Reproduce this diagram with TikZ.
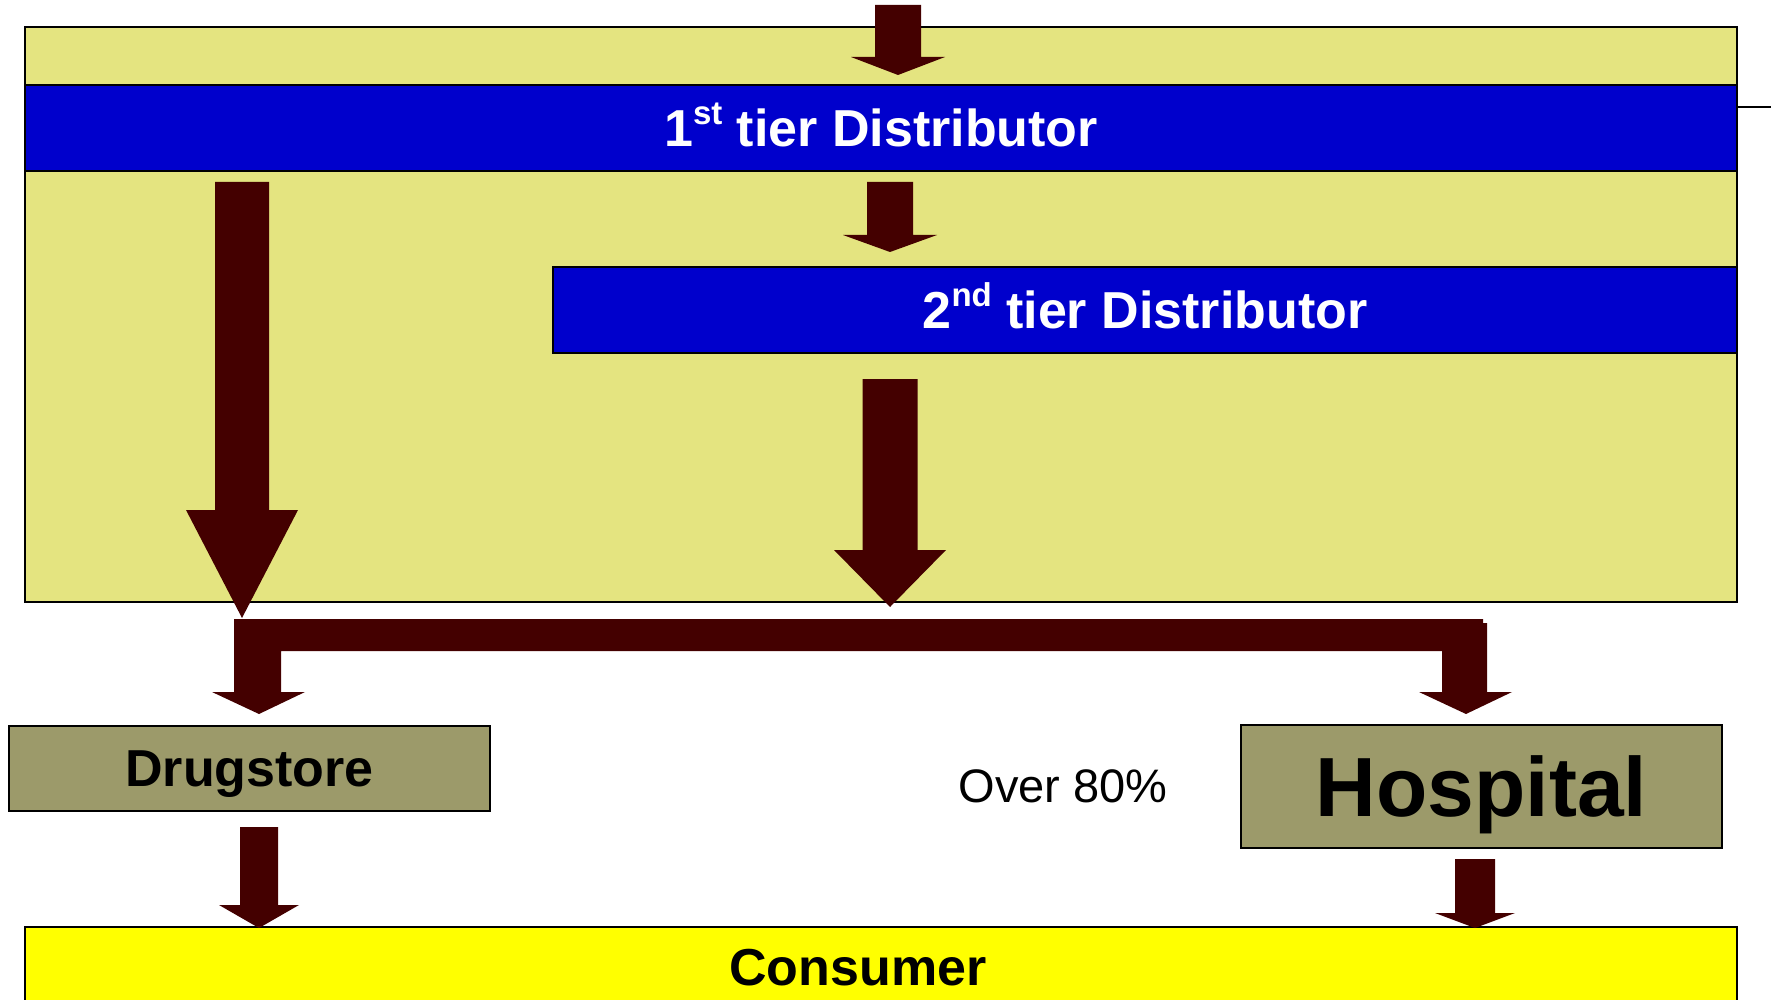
\documentclass[tikz,border=0pt]{standalone}
\usepackage{fontspec}
\setmainfont{Liberation Sans}
\definecolor{panelfill}{RGB}{228,228,128}
\definecolor{tierblue}{RGB}{0,0,204}
\definecolor{arrowred}{RGB}{68,0,0}
\definecolor{olivebox}{RGB}{156,154,106}
\definecolor{consumeryellow}{RGB}{255,255,0}
% block arrow pointing down: centre x, top y, y where the head starts, tip y, half shaft width, half head width
\newcommand{\downblock}[6]{%
  \fill[arrowred] (#1-#5,#2) -- (#1+#5,#2) -- (#1+#5,#3) -- (#1+#6,#3) -- (#1,#4)
    -- (#1-#6,#3) -- (#1-#5,#3) -- cycle;}
% ordinal suffix set high and small
\newcommand{\ordsuf}[1]{\raisebox{0.42em}{\fontsize{33}{33}\selectfont #1}}
\begin{document}
\begin{tikzpicture}[x=1pt,y=-1pt,
  boxframe/.style={draw=black, line width=2pt, inner sep=0pt, outer sep=0pt},
  tierbar/.style={boxframe, fill=tierblue, text=white, font=\fontsize{52}{60}\selectfont\bfseries,
    text height=37pt, text depth=0pt},
  outlet/.style={boxframe, fill=olivebox, text=black},
  plain/.style={inner sep=0pt, outer sep=0pt}]
\useasboundingbox (0,0) rectangle (1771,1000);
\clip (0,0) rectangle (1771,1000);

% distribution panel and tier bars
\node[boxframe, fill=panelfill, minimum width=1712pt, minimum height=575pt] (panel) at (881,314.5) {};
\node[tierbar, minimum width=1712pt, minimum height=86pt] (tier1) at (881,128) {1\ordsuf{st} tier Distributor};
\node[tierbar, minimum width=1184pt, minimum height=85pt] (tier2) at (1145,310) {2\ordsuf{nd} tier Distributor};
\coordinate (stub) at (1771,107);
\draw[line width=2pt] (panel.east |- stub) -- (stub);

% outlets
\node[outlet, minimum width=481pt, minimum height=85pt, font=\fontsize{52}{60}\selectfont\bfseries,
  text height=37pt, text depth=0pt] (drug) at (249.5,768) {Drugstore};
\node[outlet, minimum width=481pt, minimum height=123pt, font=\fontsize{84}{96}\selectfont\bfseries,
  text height=60pt, text depth=0pt] (hosp) at (1481.5,786.5) {Hospital};
\node[plain, font=\fontsize{47}{56}\selectfont] (share) at (1063,786) {Over 80\%};

% consumer
\node[boxframe, fill=consumeryellow, minimum width=1712pt, minimum height=150pt, anchor=north] (cons) at (881,927) {};
\node[plain, font=\fontsize{52}{60}\selectfont\bfseries] (consumer) at (858,968) {Consumer};

% flow arrows
\downblock{898}{5}{57}{75}{23}{47}
\downblock{890}{182}{235}{252}{23}{47}
\downblock{242}{182}{510}{618}{27}{56}
\downblock{890}{379}{550}{607}{27.5}{56}
\fill[arrowred] (234,619) -- (1483,619) -- (1483,623) -- (1487,623) -- (1487,692) -- (1512,692)
  -- (1466,714) -- (1419,692) -- (1442,692) -- (1442,651) -- (281,651) -- (281,692) -- (305,692)
  -- (259,714) -- (212,692) -- (234,692) -- cycle;
\downblock{259}{827}{905}{928}{19}{40}
\downblock{1475}{859}{913}{928}{20}{40}
\end{tikzpicture}
\end{document}
